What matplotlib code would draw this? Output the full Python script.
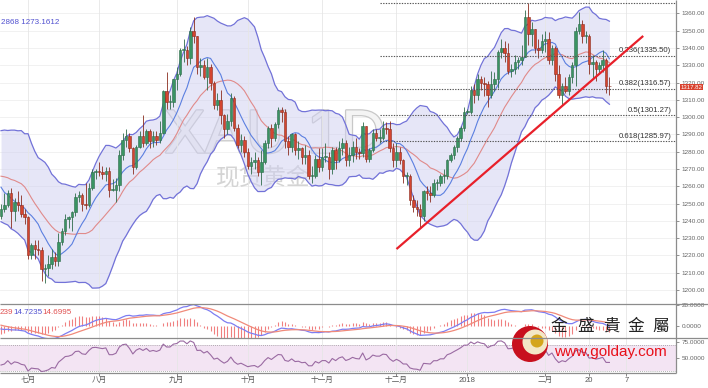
import numpy as np
import pandas as pd
import matplotlib
matplotlib.use('Agg')
import matplotlib.pyplot as plt
from matplotlib.transforms import Affine2D
from matplotlib.ticker import FormatStrFormatter
import matplotlib.patheffects as pe
from matplotlib.patches import Circle

plt.rcParams['font.family'] = ['Liberation Sans', 'Noto Sans CJK SC', 'DejaVu Sans']

## XAU/USD daily, closes before the first drawn candle (Apr 18 - Jun 20 2017), only for indicators
warmup_close = [1290, 1283, 1283, 1284, 1276, 1264, 1268, 1264, 1268,
                1256, 1256, 1248, 1229, 1228, 1227, 1216, 1219, 1225, 1228,
                1231, 1236, 1259, 1252, 1254, 1261, 1251, 1257, 1256, 1267,
                1266, 1262, 1268, 1263, 1279, 1280, 1294, 1287, 1279, 1271,
                1266, 1267, 1267, 1255, 1254, 1246, 1243]

## (open, high, low, close)
jun = [(1243, 1250, 1241, 1247), (1247, 1256, 1245, 1249), (1249, 1258, 1248, 1256),
       (1256, 1259, 1236, 1246), (1246, 1253, 1240, 1251), (1251, 1257, 1246, 1249),
       (1249, 1255, 1242, 1244), (1244, 1247, 1238, 1242)]
jul = [(1242, 1243, 1218, 1220), (1220, 1227, 1218, 1226), (1226, 1229, 1218, 1224),
       (1224, 1229, 1220, 1223), (1223, 1225, 1205, 1212), (1212, 1215, 1204, 1213),
       (1213, 1220, 1208, 1215), (1215, 1224, 1212, 1219), (1219, 1222, 1214, 1217),
       (1217, 1233, 1214, 1228), (1228, 1236, 1226, 1234), (1234, 1244, 1232, 1241),
       (1241, 1243, 1236, 1242), (1242, 1246, 1234, 1245), (1245, 1256, 1243, 1254),
       (1254, 1257, 1251, 1255), (1255, 1256, 1246, 1250), (1250, 1262, 1247, 1249),
       (1249, 1262, 1248, 1259), (1259, 1270, 1258, 1268), (1268, 1270, 1264, 1269)]
aug = [(1269, 1274, 1266, 1268), (1268, 1272, 1264, 1267), (1267, 1271, 1263, 1269),
       (1269, 1271, 1254, 1258), (1258, 1264, 1257, 1258), (1258, 1265, 1251, 1261),
       (1261, 1281, 1257, 1278), (1278, 1291, 1275, 1287), (1287, 1293, 1283, 1289),
       (1289, 1291, 1280, 1282), (1282, 1283, 1267, 1271), (1271, 1284, 1270, 1283),
       (1283, 1292, 1282, 1289), (1289, 1301, 1283, 1285), (1285, 1293, 1284, 1292),
       (1292, 1293, 1282, 1286), (1286, 1292, 1283, 1289), (1289, 1292, 1284, 1287),
       (1287, 1298, 1285, 1291), (1291, 1316, 1290, 1315), (1315, 1326, 1305, 1309),
       (1309, 1313, 1305, 1309), (1309, 1322, 1306, 1322)]
sep = [(1322, 1329, 1316, 1325), (1325, 1340, 1324, 1339), (1339, 1345, 1332, 1339),
       (1339, 1341, 1330, 1334), (1334, 1352, 1331, 1350), (1350, 1358, 1343, 1347),
       (1347, 1347, 1325, 1329), (1329, 1334, 1324, 1330), (1330, 1333, 1322, 1323),
       (1323, 1334, 1316, 1329), (1329, 1331, 1316, 1320), (1320, 1321, 1305, 1307),
       (1307, 1314, 1304, 1310), (1310, 1316, 1296, 1301), (1301, 1302, 1288, 1293),
       (1293, 1302, 1290, 1298), (1298, 1314, 1295, 1311), (1311, 1312, 1292, 1294),
       (1294, 1296, 1282, 1284), (1284, 1290, 1280, 1287), (1287, 1289, 1277, 1280)]
oct_ = [(1280, 1282, 1270, 1272), (1272, 1277, 1267, 1274), (1274, 1280, 1270, 1275),
        (1275, 1277, 1266, 1268), (1268, 1281, 1261, 1274), (1274, 1287, 1273, 1285),
        (1285, 1295, 1282, 1294), (1294, 1296, 1283, 1288), (1288, 1297, 1286, 1296),
        (1296, 1306, 1294, 1304), (1304, 1306, 1297, 1303), (1303, 1305, 1282, 1286),
        (1286, 1289, 1278, 1283), (1283, 1291, 1280, 1290), (1290, 1291, 1278, 1281),
        (1281, 1286, 1276, 1282), (1282, 1283, 1273, 1277), (1277, 1284, 1273, 1278),
        (1278, 1281, 1264, 1266), (1266, 1272, 1262, 1266), (1266, 1278, 1265, 1276),
        (1276, 1282, 1268, 1271)]
nov = [(1271, 1282, 1269, 1277), (1277, 1285, 1274, 1277), (1277, 1280, 1264, 1270),
       (1270, 1283, 1267, 1281), (1281, 1283, 1270, 1275), (1275, 1286, 1274, 1282),
       (1282, 1288, 1278, 1285), (1285, 1287, 1272, 1275), (1275, 1283, 1272, 1278),
       (1278, 1286, 1274, 1283), (1283, 1288, 1276, 1280), (1280, 1282, 1276, 1279),
       (1279, 1297, 1277, 1295), (1295, 1295, 1274, 1276), (1276, 1282, 1274, 1281),
       (1281, 1293, 1280, 1291), (1291, 1293, 1286, 1288), (1288, 1293, 1285, 1288),
       (1288, 1298, 1287, 1294), (1294, 1297, 1290, 1293), (1293, 1298, 1280, 1282),
       (1282, 1285, 1271, 1275)]
dec = [(1275, 1285, 1271, 1280), (1280, 1283, 1273, 1275), (1275, 1276, 1262, 1266),
       (1266, 1268, 1261, 1266), (1266, 1267, 1249, 1252), (1252, 1255, 1245, 1248),
       (1248, 1252, 1243, 1247), (1247, 1250, 1236, 1243), (1243, 1258, 1240, 1257),
       (1257, 1260, 1252, 1256), (1256, 1260, 1251, 1255), (1255, 1264, 1254, 1262),
       (1262, 1264, 1258, 1262), (1262, 1267, 1260, 1266), (1266, 1270, 1262, 1266),
       (1266, 1276, 1264, 1275), (1275, 1279, 1274, 1278), (1278, 1284, 1276, 1283),
       (1283, 1289, 1280, 1288), (1288, 1295, 1286, 1294), (1294, 1306, 1292, 1303)]
jan = [(1303, 1305, 1302, 1303), (1303, 1318, 1302, 1316), (1316, 1319, 1308, 1313),
       (1313, 1325, 1310, 1322), (1322, 1324, 1316, 1320), (1320, 1323, 1312, 1319),
       (1319, 1321, 1306, 1313), (1313, 1327, 1311, 1319), (1319, 1326, 1315, 1322),
       (1322, 1339, 1317, 1338), (1338, 1345, 1334, 1340), (1340, 1344, 1332, 1337),
       (1337, 1343, 1325, 1327), (1327, 1331, 1323, 1328), (1328, 1336, 1325, 1332),
       (1332, 1335, 1328, 1333), (1333, 1342, 1330, 1335), (1335, 1362, 1335, 1358),
       (1358, 1366, 1342, 1348), (1348, 1355, 1341, 1351), (1351, 1351, 1337, 1340),
       (1340, 1345, 1334, 1339), (1339, 1348, 1337, 1344)]
feb = [(1344, 1350, 1338, 1345), (1345, 1349, 1331, 1333), (1333, 1342, 1330, 1340),
       (1340, 1341, 1321, 1325), (1325, 1330, 1311, 1313), (1313, 1320, 1307, 1318),
       (1318, 1323, 1314, 1315), (1315, 1325, 1313, 1323), (1323, 1332, 1320, 1330),
       (1330, 1352, 1318, 1350), (1350, 1361, 1348, 1354), (1354, 1356, 1343, 1347),
       (1347, 1350, 1343, 1347), (1347, 1348, 1325, 1331), (1331, 1336, 1322, 1332),
       (1332, 1333, 1321, 1328), (1328, 1332, 1325, 1330), (1330, 1339, 1326, 1333),
       (1333, 1334, 1314, 1318), (1318, 1323, 1313, 1317.82)]

fib_levels = [1366.10, 1335.50, 1316.57, 1301.27, 1285.97]
fib_labels = ['', '0.236(1335.50)', '0.382(1316.57)', '0.5(1301.27)', '0.618(1285.97)']
fib_start = '2017-11-24'
trend_pts = [('2017-12-01', 1223.7), ('2018-03-14', 1347.0)]

tick_dates = ['2017-07-03', '2017-08-01', '2017-09-01', '2017-10-02', '2017-11-01',
              '2017-12-01', '2018-01-01', '2018-02-01', '2018-02-20', '2018-03-07']
tick_labels = ['七月', '八月', '九月', '十月', '十一月', '十二月', '2018', '二月', '20', '7']

ohlc = np.array(jun + jul + aug + sep + oct_ + nov + dec + jan + feb, dtype=float)
o, h, l, c = ohlc.T
days = pd.bdate_range('2017-06-21', '2018-04-30')
x = np.arange(len(c))


def pos(d):
    return days.get_indexer(pd.to_datetime(list(d)))


# indicators
full = pd.Series(np.r_[warmup_close, c])
n0 = len(warmup_close)
mid = full.rolling(20).mean()
sd = full.rolling(20).std(ddof=0)
upper = (mid + 2 * sd)[n0:].values
lower = (mid - 2 * sd)[n0:].values
mid20 = mid[n0:].values
ma10 = full.rolling(10).mean()[n0:].values
dif = full.ewm(span=12, adjust=False).mean() - full.ewm(span=26, adjust=False).mean()
dea = dif.ewm(span=9, adjust=False).mean()
hist = (2 * (dif - dea))[n0:].values
dif, dea = dif[n0:].values, dea[n0:].values
delta = full.diff()
up_ = delta.clip(lower=0).ewm(alpha=1 / 14, adjust=False).mean()
dn_ = (-delta.clip(upper=0)).ewm(alpha=1 / 14, adjust=False).mean()
rsi = (100 - 100 / (1 + up_ / dn_))[n0:].values

W, H = 708, 388
fig = plt.figure(figsize=(W / 100, H / 100), dpi=100)
px = Affine2D().scale(1 / W, -1 / H).translate(0, 1) + fig.transFigure


def rect(x0, y0, x1, y1):
    return [x0 / W, 1 - y1 / H, (x1 - x0) / W, (y1 - y0) / H]


ax = fig.add_axes(rect(0, 0, 676, 304))
axm = fig.add_axes(rect(0, 304, 676, 338), sharex=ax)
axr = fig.add_axes(rect(0, 338, 676, 373), sharex=ax)

ax.set_xlim(-0.3, 199.7)
ax.set_ylim(1191.9, 1367.8)
axm.set_ylim(-11.4, 21)
axr.set_ylim(26.6, 81.3)

ticks = pos(tick_dates)
for a in (ax, axm, axr):
    for s in ('top', 'left', 'bottom', 'right'):
        a.spines[s].set_visible(False)
    a.set_facecolor('none')
    a.yaxis.tick_right()
    a.tick_params(axis='y', labelsize=4.6, colors='#666666', length=2, width=0.5, pad=2)
    a.set_xticks(ticks)
    a.grid(axis='x', color='#e6e6e6', lw=0.6)
    a.tick_params(axis='x', length=0)
ax.tick_params(axis='x', labelbottom=False)
axm.tick_params(axis='x', labelbottom=False)
axr.set_xticklabels(tick_labels)
axr.tick_params(axis='x', labelsize=5.5, colors='#555555', length=2, width=0.5, pad=1)

# main
ax.set_yticks(np.arange(1200, 1361, 10))
ax.yaxis.set_major_formatter(FormatStrFormatter('%.2f'))
for lv in np.arange(1200, 1361, 10):
    ax.axhline(lv, color='#efefef', lw=0.6, zorder=0)

ax.text(275, 137, 'XAU 1D', transform=px, fontsize=44, ha='center', va='center',
        color='#f4f4f4', zorder=0.5,
        path_effects=[pe.Stroke(linewidth=1.8, foreground='#c8c8c8'), pe.Normal()])
ax.text(263, 178, '现货黄金', transform=px, fontsize=17, ha='center', va='center',
        color='#d4d4d4', zorder=0.5, family=['Noto Sans CJK SC'])

ax.fill_between(x, lower, upper, color='#cfcff0', alpha=0.5, lw=0, zorder=1)
ax.plot(x, upper, color='#7272d8', lw=0.9, zorder=2)
ax.plot(x, lower, color='#7272d8', lw=0.9, zorder=2)
ax.plot(x, mid20, color='#e08a8a', lw=0.8, zorder=2)
ax.plot(x, ma10, color='#5b7fe0', lw=0.8, zorder=2)

up = c >= o
ax.vlines(x, l, h, color=np.where(up, '#2f6b4a', '#8a2c1e'), lw=0.6, zorder=3)
body_lo = np.minimum(o, c)
body_h = np.maximum(np.abs(c - o), 0.5)
ax.bar(x, body_h, bottom=body_lo, width=0.74,
       color=np.where(up, '#3a9463', '#d4452f'),
       edgecolor=np.where(up, '#2f6b4a', '#8a2c1e'), lw=0.4, zorder=4)

xs = pos([fib_start])[0]
ax.hlines(fib_levels, xs, 199.7, colors='#555555', lw=0.8, linestyles=(0, (1.2, 1.2)), zorder=5)
for lv, lab in zip(fib_levels, fib_labels):
    if lab:
        ax.annotate(lab, (198.3, lv), xytext=(0, 1), textcoords='offset points',
                    ha='right', va='bottom', fontsize=5.6, color='#333333', zorder=6)

tx = pos([d for d, _ in trend_pts])
ax.plot(tx, [p for _, p in trend_pts], color='#e8202a', lw=1.6, zorder=6, solid_capstyle='butt')

ax.annotate(f'{c[-1]:.2f}', (1.0, c[-1]), xycoords=('axes fraction', 'data'),
            xytext=(3, -0.6), textcoords='offset points', ha='left', va='center',
            fontsize=4.3, color='white', zorder=7, annotation_clip=False,
            bbox=dict(boxstyle='square,pad=0.08', fc='#d9412e', ec='none'))

# MACD
axm.set_yticks([0, 20])
axm.set_yticklabels(['0.0000', '20.0000'])
axm.vlines(x, 0, hist, color='#f08080', lw=0.8, zorder=2)
axm.plot(x, dif, color='#7d7df2', lw=0.9, zorder=3)
axm.plot(x, dea, color='#f08a7a', lw=0.9, zorder=3)

# RSI
axr.set_yticks([50, 75])
axr.set_yticklabels(['50.0000', '75.0000'])
axr.axhspan(30, 70, color='#f3e4f3', lw=0, zorder=0)
axr.axhline(70, color='#999999', lw=0.6, ls=(0, (1, 1.5)), zorder=1)
axr.axhline(30, color='#999999', lw=0.6, ls=(0, (1, 1.5)), zorder=1)
axr.plot(x, rsi, color='#9a6aa2', lw=0.8, zorder=3)

# frame, labels and logo
ov = fig.add_axes([0, 0, 1, 1], zorder=10)
ov.set_xlim(0, W)
ov.set_ylim(H, 0)
ov.axis('off')
ov.hlines([304, 338], 0, W, color='#8c8c8c', lw=0.9)
ov.hlines(373, 0, 676, color='#8c8c8c', lw=0.9)
ov.vlines(676, 0, 373, color='#8c8c8c', lw=0.9)

ov.text(1, 22, '2868 1273.1612', fontsize=5.8, color='#5050d0', va='center')
ov.text(0, 313, '239', fontsize=5.8, color='#e05050', va='center')
ov.text(13, 313, '14.7235', fontsize=5.8, color='#5050d0', va='center')
ov.text(42, 313, '14.6995', fontsize=5.8, color='#e05050', va='center')

ov.add_patch(Circle((530, 344), 18, fc='#c8101e', ec='none'))
ov.add_patch(Circle((535, 342), 12.5, fc='#f3e7c6', ec='none'))
ov.add_patch(Circle((537, 341), 6.5, fc='#d4a51c', ec='none'))
for cx, ch in zip([559, 586, 611, 636, 661], '金盛貴金屬'):
    ov.text(cx, 326, ch, fontsize=12, ha='center', va='center', color='#222222',
            family=['Noto Sans CJK TC'])
ov.text(610, 352, 'www.golday.com', fontsize=11, ha='center', va='center', color='#e8101a')

fig.savefig('out.png', dpi=100)
